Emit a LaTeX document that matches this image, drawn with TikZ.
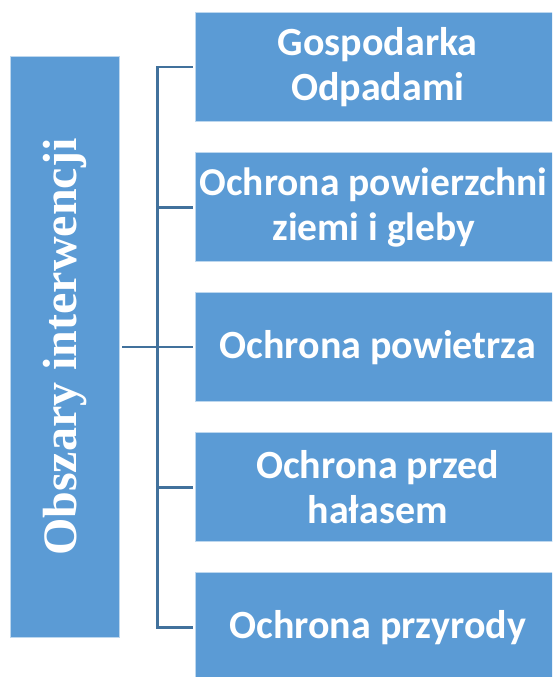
\documentclass[tikz,border=0pt]{standalone}
\usepackage{fontspec}
\setmainfont{Carlito}
\newfontfamily\serifbold{Liberation Serif}
\definecolor{boxblue}{HTML}{5B9BD5}
\definecolor{boxedge}{HTML}{BDD7EE}
\definecolor{linkblue}{HTML}{41719C}
\begin{document}
\begin{tikzpicture}[x=1pt,y=-1pt,
  itemfont/.style={font=\fontsize{40}{45}\selectfont\bfseries},
  item/.style={fill=boxblue, draw=boxedge, line width=0.8pt, minimum width=364pt,
    minimum height=109pt, inner sep=0pt, text=white, anchor=west, align=center, itemfont},
  itemtext/.style={text=white, align=center, inner sep=0pt, font=\fontsize{39.5}{45}\selectfont\bfseries},
  mainbox/.style={fill=boxblue, draw=boxedge, line width=0.8pt, minimum width=109.3pt,
    minimum height=581pt, inner sep=0pt},
  maintitle/.style={rotate=90, text=white, inner sep=0pt,
    font=\serifbold\fontsize{48}{52}\selectfont\bfseries},
  link/.style={draw=linkblue, line width=2.4pt}]
\useasboundingbox (0,0) rectangle (552,677);
\clip (0,0) rectangle (552,677);
\node[mainbox] (main) at (64.7,347.2) {};
\node[maintitle] (maintext) at (main.center) {Obszary interwencji};
\node[item] (b1) at (195.3,67.3) {Gospodarka\\Odpadami};
\node[item] (b2) at (195.3,207.3) {};
\node[itemtext] (b2text) at ([xshift=-4pt]b2.center) {Ochrona powierzchni\\ziemi i gleby};
\node[item] (b3) at (195.3,347.2) {Ochrona powietrza};
\node[item] (b4) at (195.3,487.3) {Ochrona przed\\hałasem};
\node[item] (b5) at (195.3,627.3) {Ochrona przyrody};
\coordinate (trunk) at (157.5,347.2);
\draw[link] ([xshift=-2.6pt]b1.west) -- (b1.west -| trunk) -- (b5.west -| trunk) -- ([xshift=-2.6pt]b5.west);
\draw[link] ([xshift=-2.6pt]b2.west) -- (b2.west -| trunk);
\draw[link] ([xshift=-2.6pt]b3.west) -- (b3.west -| trunk);
\draw[link] ([xshift=-2.6pt]b4.west) -- (b4.west -| trunk);
\draw[link] ([xshift=2.7pt]main.east) -- (trunk);
\end{tikzpicture}
\end{document}
